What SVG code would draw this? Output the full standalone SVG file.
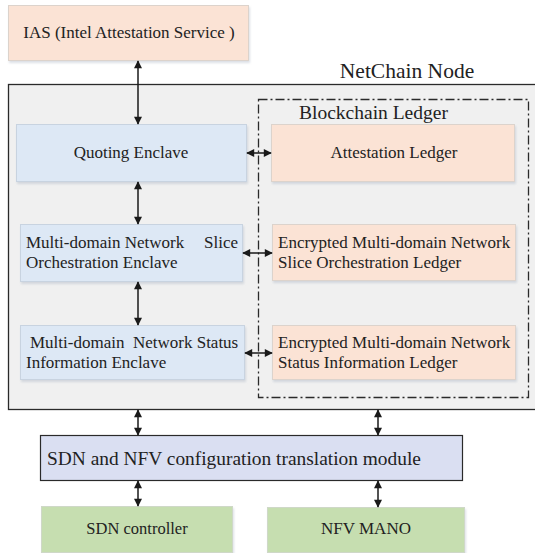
<svg xmlns="http://www.w3.org/2000/svg" width="535" height="553" viewBox="0 0 535 553" font-family="'Liberation Serif','Times New Roman',serif">
<defs>
<marker id="ah" viewBox="0 0 10 10" refX="9" refY="5" markerWidth="9" markerHeight="8" markerUnits="userSpaceOnUse" orient="auto-start-reverse">
<path d="M0,0 L10,5 L0,10 z" fill="#1a1a1a"/>
</marker>
<filter id="sh" x="-5%" y="-5%" width="112%" height="120%">
<feDropShadow dx="1" dy="2" stdDeviation="1" flood-color="#9aa6b8" flood-opacity="0.35"/>
</filter>
</defs>
<style>
text{font-family:"Liberation Serif","Times New Roman",serif;fill:#222}
.peach{fill:#fbe3d5;stroke:#dcd3cc;stroke-width:1;filter:url(#sh)}
.blue{fill:#dde8f5;stroke:#c8d3e0;stroke-width:1;filter:url(#sh)}
.green{fill:#c6deb0;stroke:#cfd8c8;stroke-width:1;filter:url(#sh)}
.lav{fill:#dadff2;stroke:#2a2a2a;stroke-width:1.2}
.conn line{stroke:#1a1a1a;stroke-width:1.5;marker-start:url(#ah);marker-end:url(#ah)}
.t17{font-size:17px}
</style>
<rect width="535" height="553" fill="#ffffff"/>

<g id="netchain">
<rect x="8.5" y="84.5" width="530" height="325" fill="#f0f0f0" stroke="#2a2a2a" stroke-width="1.3"/>
<text x="407" y="78" font-size="21.5" text-anchor="middle">NetChain Node</text>
</g>

<g id="blockchain-ledger">
<rect x="258.5" y="99.5" width="270" height="298" fill="none" stroke="#2a2a2a" stroke-width="1.3" stroke-dasharray="9,3,2,3"/>
<text x="299" y="119" font-size="19.5">Blockchain Ledger</text>
</g>

<g id="ias">
<rect class="peach" x="8.5" y="5.5" width="240" height="55"/>
<text class="t17" x="129" y="38" text-anchor="middle">IAS (Intel Attestation Service )</text>
</g>

<g id="quoting">
<rect class="blue" x="16.5" y="124.5" width="230" height="57"/>
<text class="t17" x="131" y="158" text-anchor="middle">Quoting Enclave</text>
</g>

<g id="attestation-ledger">
<rect class="peach" x="271.5" y="124.5" width="243" height="57"/>
<text class="t17" x="394" y="158" text-anchor="middle">Attestation Ledger</text>
</g>

<g id="slice-enclave">
<rect class="blue" x="20.5" y="224.5" width="222" height="57"/>
<text class="t17" x="26" y="248">Multi-domain Network<tspan x="204">Slice</tspan></text>
<text class="t17" x="26" y="268">Orchestration Enclave</text>
</g>

<g id="slice-ledger">
<rect class="peach" x="272.5" y="224.5" width="243" height="56"/>
<text class="t17" x="278" y="248">Encrypted Multi-domain Network</text>
<text class="t17" x="278" y="268">Slice Orchestration Ledger</text>
</g>

<g id="status-enclave">
<rect class="blue" x="20.5" y="325.5" width="224" height="54"/>
<text class="t17" x="30" y="348" xml:space="preserve">Multi-domain  Network Status</text>
<text class="t17" x="26" y="368">Information Enclave</text>
</g>

<g id="status-ledger">
<rect class="peach" x="272.5" y="325.5" width="243" height="54"/>
<text class="t17" x="278" y="348">Encrypted Multi-domain Network</text>
<text class="t17" x="278" y="368">Status Information Ledger</text>
</g>

<g id="translation">
<rect class="lav" x="40.5" y="435.5" width="422" height="45"/>
<text x="47" y="465" font-size="19.4">SDN and NFV configuration translation module</text>
</g>

<g id="sdn-controller">
<rect class="green" x="41.5" y="506.5" width="191" height="46"/>
<text x="137" y="534" font-size="16.5" text-anchor="middle">SDN controller</text>
</g>

<g id="nfv-mano">
<rect class="green" x="267.5" y="507.5" width="197" height="45"/>
<text class="t17" x="366" y="534" text-anchor="middle">NFV MANO</text>
</g>

<g id="connectors" class="conn">
<line x1="138" y1="61" x2="138" y2="124"/>
<line x1="138" y1="182" x2="138" y2="224"/>
<line x1="138" y1="282" x2="138" y2="325"/>
<line x1="247" y1="153" x2="271" y2="153"/>
<line x1="243" y1="253" x2="272" y2="253"/>
<line x1="245" y1="353" x2="272" y2="353"/>
<line x1="138" y1="410" x2="138" y2="435"/>
<line x1="378" y1="410" x2="378" y2="435"/>
<line x1="138" y1="481" x2="138" y2="506"/>
<line x1="378" y1="481" x2="378" y2="507"/>
</g>
</svg>
